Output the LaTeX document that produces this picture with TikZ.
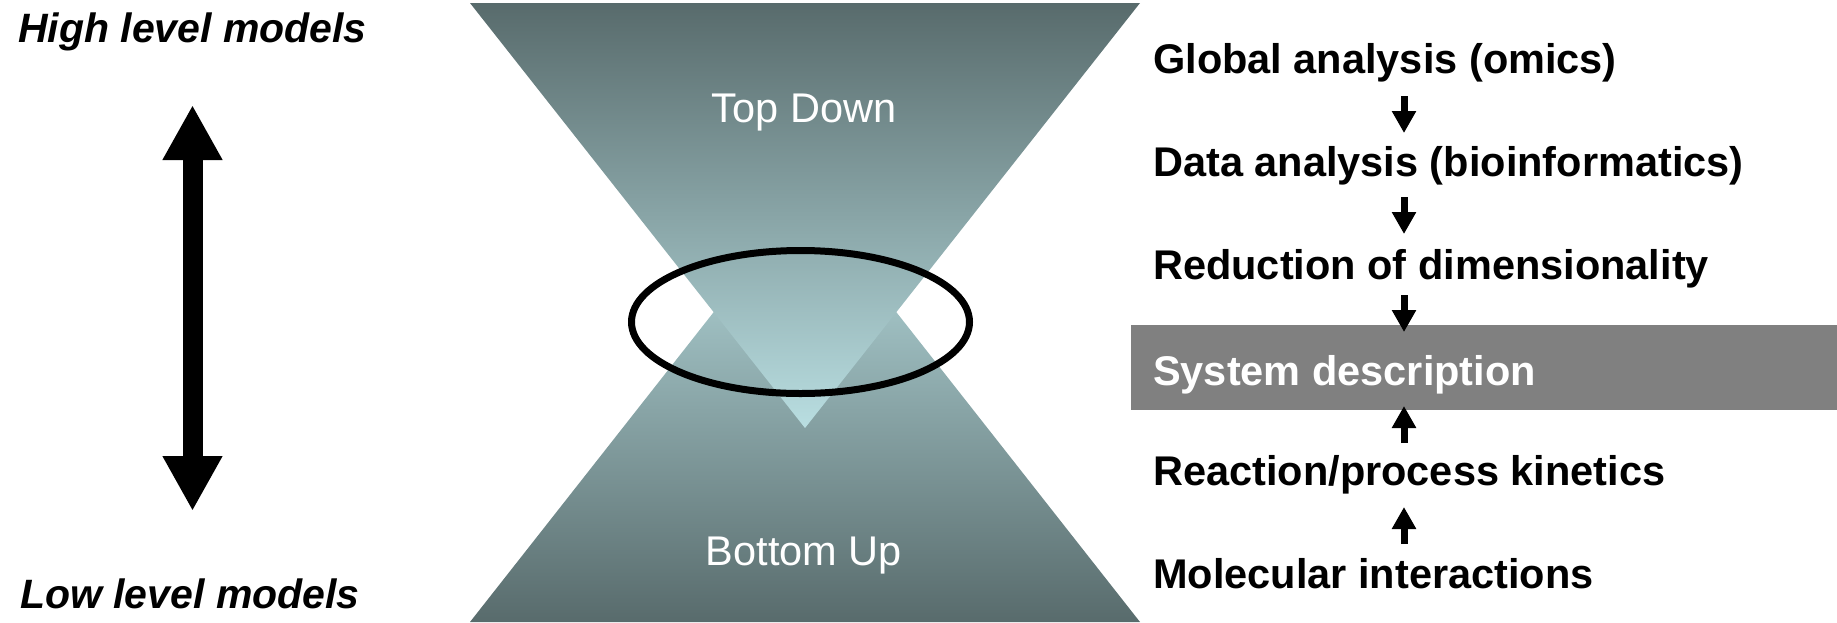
\documentclass[tikz,border=0pt]{standalone}
\usepackage{fontspec}
\setmainfont{Liberation Sans}
\usetikzlibrary{arrows.meta}

\definecolor{hourdark}{HTML}{586B6C}
\definecolor{hourlight}{HTML}{B9DEE1}
\definecolor{boxgray}{HTML}{808080}

\begin{document}
\begin{tikzpicture}[x=1pt,y=-1pt,
  txt/.style={inner sep=0pt, anchor=base west, font=\fontsize{41.5}{49}\selectfont\bfseries},
  sidetxt/.style={inner sep=0pt, anchor=base west, font=\fontsize{41}{49}\selectfont\bfseries\itshape},
  conetxt/.style={inner sep=0pt, anchor=base, text=white, font=\fontsize{41.5}{49}\selectfont},
  bigarrow/.style={line width=20pt, {Triangle[width=56pt,length=55pt]}-{Triangle[width=56pt,length=55pt]}},
  smallarrow/.style={line width=7pt, -{Triangle[width=23pt,length=22pt]}}
]
\useasboundingbox (0,0) rectangle (1837,622);

% hourglass: the lower cone first, the upper cone laid over it
\shade[top color=hourlight, bottom color=hourdark] (470,622) -- (1140,622) -- (805,196) -- cycle;
\shade[top color=hourdark, bottom color=hourlight] (470,3) -- (1140,3) -- (805,428) -- cycle;
\node[conetxt] (td) at (804,122.5) {Top Down};
\node[conetxt] (bu) at (804,565.5) {Bottom Up};

% meeting zone
\draw[line width=7pt] (800.5,322) ellipse [x radius=169, y radius=71.5];

% level axis
\node[sidetxt] (hi) at (18,42) {High level models};
\node[sidetxt] (lo) at (20,608) {Low level models};
\draw[bigarrow] (hi.south |- 0,105) -- (hi.south |- 0,511);

% right-hand chain
\node[fill=boxgray, inner sep=0pt, minimum width=706.5pt, minimum height=84.5pt, anchor=north west] (sysbox) at (1130.5,325) {};
\node[txt] (g) at (1153,73) {Global analysis (omics)};
\node[txt] (d) at (1153,176) {Data analysis (bioinformatics)};
\node[txt] (r) at (1153,279) {Reduction of dimensionality};
\node[txt, text=white] (s) at (1153,385) {System description};
\node[txt] (k) at (1153,485.5) {Reaction/process kinetics};
\node[txt] (m) at (1153,588.5) {Molecular interactions};

\coordinate (ax) at (1404,0);
\draw[smallarrow] (ax |- 0,96) -- (ax |- 0,133);
\draw[smallarrow] (ax |- 0,197) -- (ax |- 0,234);
\draw[smallarrow] (ax |- 0,295) -- (ax |- 0,332);
\draw[smallarrow] (ax |- 0,443) -- (ax |- 0,406);
\draw[smallarrow] (ax |- 0,544) -- (ax |- 0,507);
\end{tikzpicture}
\end{document}
